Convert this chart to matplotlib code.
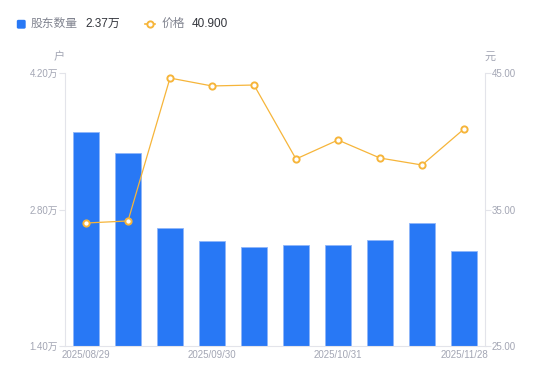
import numpy as np
import matplotlib.pyplot as plt
from matplotlib.patches import FancyBboxPatch

plt.rcParams['font.family'] = ['Liberation Sans', 'Noto Sans CJK SC', 'DejaVu Sans']

# 数据
dates = ["2025/08/29", "2025/09/10", "2025/09/19", "2025/09/30", "2025/10/10",
         "2025/10/20", "2025/10/31", "2025/11/10", "2025/11/20", "2025/11/28"]
holders = [3.60, 3.38, 2.61, 2.48, 2.42, 2.44, 2.44, 2.49, 2.66, 2.37]   # 万户
price = [34.01, 34.16, 44.63, 44.05, 44.12, 38.70, 40.09, 38.77, 38.26, 40.90]
shown_labels = [0, 3, 6, 9]

BLUE = "#2878f5"
ORANGE = "#f6b53a"
GREY = "#a3a6b4"
AXIS = "#e3e4ea"
DARK = "#33353c"

fig = plt.figure(figsize=(5.5, 3.81), dpi=100)
ax = fig.add_axes([65 / 550, 35 / 381, 420 / 550, 273 / 381])
ax2 = ax.twinx()

x = np.arange(len(dates))
ax.bar(x, holders, width=0.6, color=BLUE, edgecolor="#8fb6fa", linewidth=0.6, zorder=2)
ax2.plot(x, price, color=ORANGE, linewidth=0.9, marker="o", markersize=4.5,
         markerfacecolor="white", markeredgecolor=ORANGE, markeredgewidth=1.4, zorder=3)

ax.set_xlim(-0.5, len(dates) - 0.5)
ax.set_ylim(1.40, 4.20)
ax2.set_ylim(25, 45)

ax.set_yticks([1.40, 2.80, 4.20])
ax.set_yticklabels([f"{v:.2f}万" for v in [1.40, 2.80, 4.20]])
ax2.set_yticks([25, 35, 45])
ax2.set_yticklabels([f"{v:.2f}" for v in [25, 35, 45]])
ax.set_xticks(x[shown_labels])
ax.set_xticklabels([dates[i] for i in shown_labels])

for a in (ax, ax2):
    for s in a.spines.values():
        s.set_visible(False)
ax.spines["left"].set_visible(True)
ax.spines["left"].set_color(AXIS)
ax.spines["bottom"].set_visible(True)
ax.spines["bottom"].set_color(AXIS)
ax2.spines["right"].set_visible(True)
ax2.spines["right"].set_color(AXIS)

ax.tick_params(axis="y", colors=AXIS, labelcolor=GREY, labelsize=7, length=4, width=0.8, pad=1)
ax.tick_params(axis="x", length=0, labelcolor=GREY, labelsize=7, pad=3)
ax2.tick_params(axis="y", colors=AXIS, labelcolor=GREY, labelsize=7, length=4, width=0.8, pad=1)

# units
fig.text(59 / 550, 1 - 57 / 381, "户", color=GREY, fontsize=8, ha="center", va="center")
fig.text(490 / 550, 1 - 57 / 381, "元", color=GREY, fontsize=8, ha="center", va="center")

# legend row
ly = 1 - 24 / 381
fig.patches.append(FancyBboxPatch((17.5 / 550, 1 - 28 / 381), 7.5 / 550, 7.5 / 381,
                                  boxstyle="round,pad=0,rounding_size=0.002",
                                  transform=fig.transFigure, color=BLUE))
fig.text(31 / 550, ly, "股东数量", color="#80838f", fontsize=8.5, va="center")
fig.text(85 / 550, ly, f"{holders[-1]:.2f}万", color=DARK, fontsize=8.5, va="center")
fig.lines.append(plt.Line2D([145 / 550, 155 / 550], [ly, ly], transform=fig.transFigure,
                            color=ORANGE, linewidth=1.2))
fig.lines.append(plt.Line2D([150 / 550], [ly], transform=fig.transFigure, color=ORANGE,
                            marker="o", markersize=4.5, markerfacecolor="white",
                            markeredgewidth=1.4))
fig.text(162 / 550, ly, "价格", color="#80838f", fontsize=8.5, va="center")
fig.text(192 / 550, ly, f"{price[-1]:.3f}", color=DARK, fontsize=8.5, va="center")

fig.savefig("out.png", dpi=100)
